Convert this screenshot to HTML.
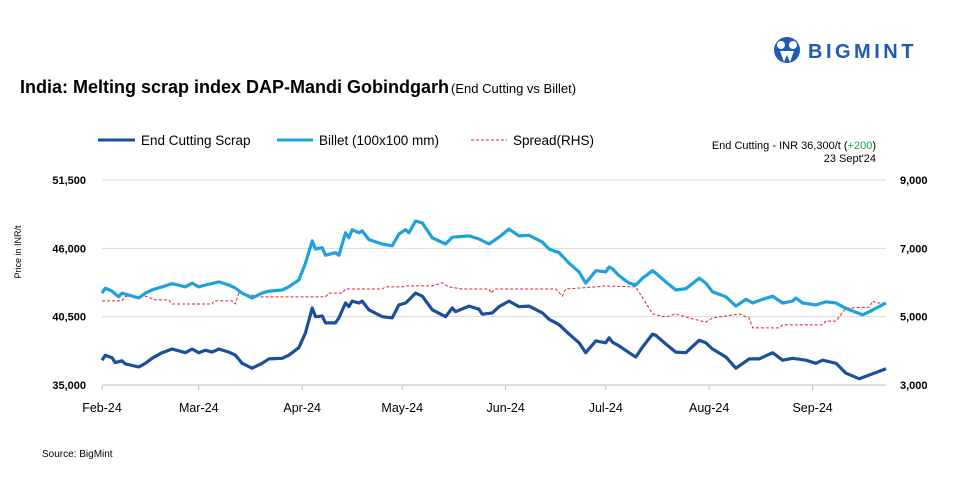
<!DOCTYPE html>
<html><head><meta charset="utf-8">
<style>
body{margin:0;background:#fff;font-family:"Liberation Sans",Arial,sans-serif;}
#wrap{position:relative;width:960px;height:480px;overflow:hidden;background:#fff}
svg text{font-family:"Liberation Sans",Arial,sans-serif}
</style></head>
<body>
<div id="wrap">
<svg id="chart" width="960" height="480">
  <g>
    <circle cx="787" cy="50" r="13" fill="#1f5bb5"/>
    <circle cx="781" cy="45" r="4" fill="#fff"/>
    <circle cx="793" cy="45" r="4" fill="#fff"/>
    <path d="M780 51 L784 62 L787 55 L790 62 L794 51 Z" fill="#fff"/>
    <text x="808" y="58" font-size="20" font-weight="bold" fill="#1f5bb5" letter-spacing="3.5">BIGMINT</text>
  </g>
  <text x="20" y="93" font-size="18" font-weight="bold" fill="#000">India: Melting scrap index DAP-Mandi Gobindgarh<tspan font-size="13" font-weight="normal" dx="2">(End Cutting vs Billet)</tspan></text>

  <g>
    <g>
      <line x1="98" y1="140" x2="135" y2="140" stroke="#1a4f9c" stroke-width="3"/>
      <text x="141" y="145" font-size="13.5" fill="#000">End Cutting Scrap</text>
    </g>
    <g>
      <line x1="277" y1="140" x2="313" y2="140" stroke="#1ea1dc" stroke-width="3"/>
      <text x="319" y="145" font-size="13.5" fill="#000">Billet (100x100 mm)</text>
    </g>
    <g>
      <line x1="471" y1="140" x2="507" y2="140" stroke="#e0202a" stroke-width="1" stroke-dasharray="3,2"/>
      <text x="513" y="145" font-size="13.5" fill="#000">Spread(RHS)</text>
    </g>
  </g>
  <text x="876" y="149" font-size="11" text-anchor="end" fill="#000">End Cutting - INR 36,300/t (<tspan fill="#1aa34a">+200</tspan>)</text>
  <text x="876" y="162" font-size="11" text-anchor="end" fill="#000">23 Sept'24</text>
  <text transform="translate(21,252) rotate(-90)" font-size="9" text-anchor="middle" fill="#000">Price in INR/t</text>
  <text x="42" y="457" font-size="10" fill="#000">Source: BigMint</text>
  <g id="grid"></g><g id="axes"></g><g id="series"></g>
</svg>
</div>
<script>
const monthLabels=["Feb-24","Mar-24","Apr-24","May-24","Jun-24","Jul-24","Aug-24","Sep-24"];
const monthDays=[0,29,60,90,121,151,182,213];
const leftTicks=[35000,40500,46000,51500];
const rightTicks=[3000,5000,7000,9000];
const endDays=[0,1,3,4,6,7,11,13,15,18,21,25,27,29,31,33,35,38,40,42,45,48,50,54,56,59,61,63,64,66,67,70,71,73,74,75,77,78,80,84,87,89,91,92,94,96,99,103,105,106,110,113,114,117,119,122,125,128,132,134,137,140,143,145,148,151,152,153,155,158,160,162,165,166,169,172,175,179,181,183,187,190,194,197,201,204,207,211,214,216,220,223,227,229,235];
const endCutting=[37000,37400,37200,36800,36950,36700,36450,36750,37150,37600,37900,37600,37900,37600,37800,37650,37900,37650,37400,36750,36350,36750,37100,37150,37400,38000,39200,41200,40500,40550,40000,40000,40400,41600,41300,41750,41600,41750,41050,40500,40400,41450,41600,41850,42400,42150,41050,40500,41200,40900,41350,41100,40700,40800,41300,41750,41300,41350,40800,40300,39850,39100,38400,37600,38550,38400,38800,38450,38150,37600,37250,38050,39100,39000,38300,37650,37600,38600,38400,37900,37250,36350,37100,37100,37600,37000,37150,37000,36750,37000,36750,35950,35500,35700,36300];
const billetDays=[0,1,3,5,6,11,13,15,18,21,25,27,29,31,35,38,40,42,45,48,50,54,56,59,61,63,64,66,67,70,71,73,74,75,77,78,80,84,87,89,91,92,94,96,99,103,105,110,113,116,119,122,125,128,132,134,137,140,143,145,148,151,152,153,155,158,160,162,165,166,169,172,175,179,181,183,187,190,193,195,198,201,204,207,208,210,214,217,220,222,224,228,230,235];
const billet=[42400,42800,42550,42100,42400,42000,42400,42650,42900,43150,42900,43200,42900,43050,43300,43050,42800,42400,42000,42400,42550,42650,42900,43450,44800,46600,45950,46050,45450,45650,45450,47250,46850,47500,47250,47400,46700,46350,46200,47150,47500,47250,48200,48050,46850,46350,46900,47000,46750,46350,46900,47550,47000,47050,46500,45950,45650,44800,44100,43200,44200,44100,44500,44350,43800,43200,43050,43600,44200,44000,43300,42650,42750,43600,43200,42500,42100,41350,41900,41600,41900,42150,41600,41750,42000,41600,41450,41700,41600,41300,41050,40650,40900,41600];
const spreadDays=[0,6,7,13,16,20,21,33,33.5,39,40,41,45,47,67,68,72,73,84,85,90,91,99,102,104,108,116,116.5,118,136,138,139,148,151,160,165,169,172,176,181,183,191,194,195,203,204,216,217,220,223,230,231,232,235];
const spread=[5460,5460,5600,5600,5490,5490,5370,5370,5460,5460,5370,5690,5630,5580,5580,5690,5690,5810,5810,5870,5870,5900,5900,5990,5870,5810,5810,5690,5810,5810,5600,5810,5870,5900,5870,5080,4990,5080,4960,4840,4960,5080,4960,4670,4670,4760,4760,4870,4870,5250,5280,5460,5400,5400];

const NS="http://www.w3.org/2000/svg";
const X0=102,X1=886,TOTAL=235;
const xS=d=>X0+(X1-X0)*d/TOTAL;
const yL=v=>385-(v-35000)/16500*205;
const yR=v=>385-(v-3000)/6000*205;
function mk(tag,attrs,parent){const e=document.createElementNS(NS,tag);for(const k in attrs)e.setAttribute(k,attrs[k]);parent.appendChild(e);return e;}
const grid=document.getElementById('grid'),axes=document.getElementById('axes'),series=document.getElementById('series');
leftTicks.forEach((t,i)=>{
  const y=yL(t);
  const g=mk('line',{x1:X0,x2:X1,y1:y,y2:y,stroke:i===0?'#bfbfbf':'#d9d9d9','stroke-width':1},grid);
  
  
  const tx=mk('text',{x:86,y:y+4,'font-size':11,'text-anchor':'end','font-weight':'bold',fill:'#000'},axes);
  tx.textContent=t.toLocaleString('en-US');
  
  
});
rightTicks.forEach(t=>{
  const tx=mk('text',{x:900,y:yR(t)+4,'font-size':11,'font-weight':'bold',fill:'#000'},axes);
  tx.textContent=t.toLocaleString('en-US');
  
  
});
monthLabels.forEach((m,i)=>{
  const x=xS(monthDays[i]);
  const tk=mk('line',{x1:x,x2:x,y1:385,y2:390,stroke:'#bfbfbf'},axes);
  
  
  const tx=mk('text',{x:x,y:412,'font-size':12.5,'text-anchor':'middle',fill:'#000'},axes);
  tx.textContent=m;
  
  
});
function line(days,vals,ys,attrs,name){
  const d=days.map((dd,i)=>(i?'L':'M')+xS(dd).toFixed(1)+' '+ys(vals[i]).toFixed(1)).join(' ');
  const p=mk('path',Object.assign({d:d,fill:'none','stroke-linejoin':'round'},attrs),series);
  
  
}
line(spreadDays,spread,yR,{stroke:'#e0202a','stroke-width':1,'stroke-dasharray':'3,2'},'spread-line');
line(billetDays,billet,yL,{stroke:'#1ea1dc','stroke-width':3.2},'billet-line');
line(endDays,endCutting,yL,{stroke:'#1a4f9c','stroke-width':3.2},'end-cutting-line');
</script>
</body></html>
